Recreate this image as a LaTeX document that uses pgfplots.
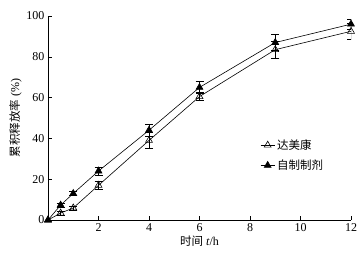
\documentclass[border=0pt]{standalone}
\usepackage{pgfplots}
\pgfplotsset{compat=1.18}
\usepackage{fontspec}
\setmainfont{Liberation Serif}
\newfontfamily\cjk{Noto Sans CJK SC}
\begin{document}
\begin{tikzpicture}
\begin{axis}[
  name=ax,
  scale only axis,
  width=303pt, height=204pt,
  xmin=0, xmax=12, ymin=0, ymax=100,
  xtick={2,4,...,12}, ytick={0,20,...,100},
  extra x ticks={0}, extra x tick labels={},
  axis x line*=bottom, axis y line*=left,
  tick align=inside,
  major tick length=4pt,
  tick style={black, semithick},
  axis line style={black, thick},
  tick label style={font=\fontsize{12}{13}\selectfont},
  /pgf/number format/assume math mode=true,
  xlabel={{\cjk\fontsize{11.5}{13}\selectfont 时间} \textit{t}/h},
  ylabel={{\cjk\fontsize{11.5}{13}\selectfont 累积释放率} (\%)},
  xlabel style={yshift=3pt, font=\fontsize{12}{13}\selectfont},
  ylabel style={yshift=-2pt, font=\fontsize{12}{13}\selectfont},
  legend style={draw=none, fill=none, at={(0.69,0.415)}, anchor=north west, font=\cjk\fontsize{11.5}{13}\selectfont, row sep=5pt,
    legend image code/.code={\draw[mark repeat=2,mark phase=2] plot coordinates {(0cm,0cm) (0.25cm,0cm) (0.5cm,0cm)};}},
  legend cell align=left,
]
\addplot[black, semithick, mark=triangle, mark size=4pt, mark options={solid}, error bars/.cd, y dir=both, y explicit]
  coordinates {(0,0) +- (0,0) (0.5,3.4) +- (0,1) (1,5.9) +- (0,1) (2,17) +- (0,2) (4,39) +- (0,4) (6,60.5) +- (0,2) (9,83.5) +- (0,4) (12,92.5) +- (0,4)};
\addlegendentry{达美康}
\addplot[black, semithick, mark=triangle*, mark size=4pt, error bars/.cd, y dir=both, y explicit]
  coordinates {(0,0) +- (0,0) (0.5,7.3) +- (0,1) (1,13) +- (0,1) (2,24) +- (0,2) (4,44) +- (0,3) (6,65) +- (0,3) (9,87) +- (0,4) (12,96) +- (0,2.5)};
\addlegendentry{自制制剂}
\end{axis}
\pgfresetboundingbox
\path ([shift={(-48pt,-35pt)}]ax.south west) rectangle ([shift={(12pt,16pt)}]ax.north east);
\end{tikzpicture}
\end{document}
